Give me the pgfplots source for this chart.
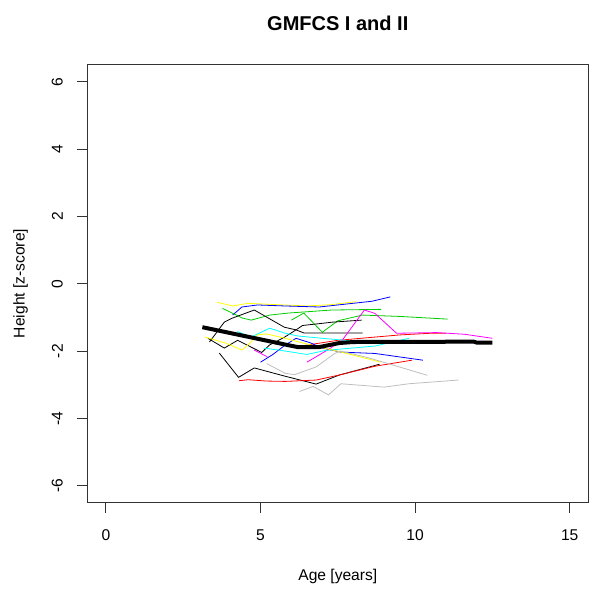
\documentclass[border=0pt]{standalone}
\usepackage{fontspec}
\setmainfont{Liberation Sans}
\usepackage{pgfplots}
\pgfplotsset{compat=1.18}
\definecolor{rgreen}{RGB}{0,205,0}
\definecolor{rgray}{RGB}{190,190,190}
\definecolor{rred}{RGB}{255,0,0}
\definecolor{rblue}{RGB}{0,0,255}
\definecolor{rcyan}{RGB}{0,255,255}
\definecolor{rmagenta}{RGB}{255,0,255}
\definecolor{ryellow}{RGB}{255,255,0}
\begin{document}
\begin{tikzpicture}
\begin{axis}[name=ax, scale only axis, width=375.75pt, height=328.8pt,
  xmin=-0.6, xmax=15.6, ymin=-6.5, ymax=6.52,
  xtick={0,5,10,15}, ytick={-6,-4,-2,0,2,4,6},
  xtick pos=left, ytick pos=left,
  tick align=outside, major tick length=7.5pt,
  tick style={black!80, line width=0.6pt},
  axis line style={black!80, line width=0.6pt},
  /pgf/number format/assume math mode=true,
  ticklabel style={font=\fontsize{11.7}{14}\selectfont},
  xticklabel style={anchor=center, yshift=-16.7pt},
  yticklabel style={anchor=center, xshift=-15pt, rotate=90},
  label style={font=\fontsize{11.7}{14}\selectfont},
  xlabel={Age [years]}, ylabel={Height [z-score]},
  xlabel style={at={(axis description cs:0.5,-0.1688)}, anchor=center},
  ylabel style={at={(axis description cs:-0.1331,0.5)}, anchor=center},
  title={GMFCS I and II},
  title style={font=\bfseries\fontsize{15}{18}\selectfont, at={(axis description cs:0.5,1.076)}, anchor=center},
  every axis plot/.append style={line width=0.6pt, mark=none},
]
\addplot[ryellow] coordinates {(3.6,-0.55)(4.1,-0.66)(4.6,-0.58)(5.5,-0.62)(6.5,-0.66)(7.3,-0.62)(8.1,-0.53)};
\addplot[rblue] coordinates {(4.1,-0.93)(4.4,-0.69)(4.9,-0.63)(5.8,-0.66)(6.9,-0.69)(8.6,-0.52)(9.2,-0.39)};
\addplot[rgreen] coordinates {(3.77,-0.73)(4.42,-1.02)(4.7,-1.08)(5.3,-0.93)(5.9,-0.87)(7.3,-0.78)(8.9,-0.76)};
\addplot[rgreen] coordinates {(6.0,-1.08)(6.4,-0.87)(7.0,-1.44)(7.5,-1.1)(8.3,-0.93)(9.5,-0.97)(11.05,-1.05)};
\addplot[black] coordinates {(3.35,-1.73)(3.83,-1.14)(4.09,-1.02)(4.8,-0.78)(5.77,-1.29)(6.15,-1.37)(6.4,-1.46)(8.3,-1.46)};
\addplot[black] coordinates {(3.3,-1.62)(3.83,-1.91)(4.26,-1.68)(5.04,-2.04)(5.29,-1.82)(5.77,-1.59)(6.15,-1.37)(6.36,-1.24)(7.33,-1.14)(8.27,-1.08)};
\addplot[black] coordinates {(3.67,-2.06)(4.29,-2.78)(4.8,-2.5)(5.77,-2.74)(6.8,-2.98)(7.55,-2.71)(8.85,-2.39)};
\addplot[rred] coordinates {(4.3,-2.88)(4.6,-2.85)(5.2,-2.89)(5.8,-2.9)(6.8,-2.86)(7.55,-2.71)(8.7,-2.45)(9.9,-2.27)};
\addplot[rred] coordinates {(6.3,-1.85)(7.5,-1.68)(8.5,-1.6)(9.5,-1.52)(10.5,-1.47)(11.0,-1.47)};
\addplot[rmagenta] coordinates {(6.5,-2.33)(7.2,-1.95)(7.65,-1.67)(8.36,-0.78)(8.7,-0.88)(9.4,-1.47)(10.7,-1.45)(11.6,-1.5)(12.5,-1.62)};
\addplot[rmagenta] coordinates {(4.8,-1.97)(5.22,-2.17)};
\addplot[rblue] coordinates {(5.0,-2.33)(5.4,-2.1)(5.8,-1.82)(6.15,-1.62)(6.6,-1.75)(7.0,-1.91)(7.6,-2.03)(8.7,-2.07)(10.25,-2.27)};
\addplot[rcyan] coordinates {(4.25,-1.42)(4.7,-1.58)(5.3,-1.32)(5.8,-1.47)(6.2,-1.55)(7.0,-1.62)(8.0,-1.7)(8.8,-1.75)};
\addplot[rcyan] coordinates {(5.1,-1.91)(5.6,-1.97)(6.5,-2.1)(7.1,-1.98)(8.7,-1.85)(9.8,-1.62)};
\addplot[ryellow] coordinates {(3.2,-1.58)(3.9,-1.77)(4.4,-1.97)(4.65,-1.77)(4.9,-1.52)(5.2,-1.49)(5.8,-1.62)(6.2,-1.72)(7.0,-1.9)(7.7,-2.05)(8.9,-2.33)};
\addplot[rgray] coordinates {(6.26,-3.2)(6.7,-3.05)(7.2,-3.3)(7.6,-2.97)(9.0,-3.07)(9.8,-2.97)(11.4,-2.86)};
\addplot[rgray] coordinates {(5.2,-2.37)(5.8,-2.66)(6.1,-2.7)(6.8,-2.47)(7.4,-2.07)(7.6,-2.0)(8.5,-2.2)(10.4,-2.72)};
\addplot[black, line width=3pt] coordinates {(3.12,-1.29)(5.77,-1.80)(6.2,-1.88)(6.9,-1.88)(7.55,-1.76)(8.0,-1.73)(11.9,-1.72)(12.0,-1.75)(12.5,-1.75)};
\end{axis}
\pgfresetboundingbox
\path ([xshift=-65.5pt,yshift=-68.5pt]ax.south west) rectangle ([xshift=8.8pt,yshift=48.2pt]ax.north east);
\end{tikzpicture}
\end{document}
